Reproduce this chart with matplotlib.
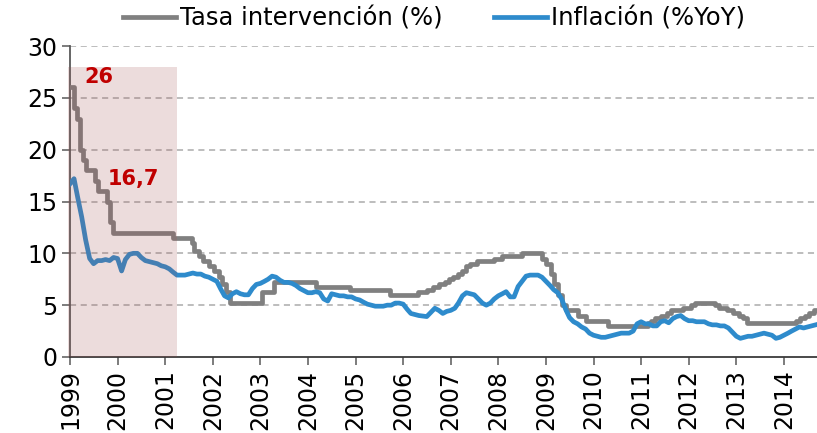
import numpy as np
import pandas as pd
import matplotlib
matplotlib.use("Agg")
import matplotlib.pyplot as plt
import matplotlib.dates as mdates

# Tasa de intervencion: fecha de cada cambio y nuevo nivel (%)
rate_dates = ["1999-01-01", "1999-02-01", "1999-02-25", "1999-03-18", "1999-04-08",
              "1999-05-05", "1999-07-15", "1999-08-01", "1999-10-12", "1999-11-02",
              "1999-11-25", "2001-03-01", "2001-07-25", "2001-08-10", "2001-09-15",
              "2001-10-20", "2001-12-01", "2002-01-10", "2002-02-15", "2002-03-15",
              "2002-04-10", "2002-05-10", "2003-01-10", "2003-04-15", "2004-03-01",
              "2004-11-20", "2005-09-20", "2006-04-28", "2006-07-01", "2006-08-15",
              "2006-10-01", "2006-11-15", "2006-12-20", "2007-01-20", "2007-03-01",
              "2007-04-01", "2007-05-01", "2007-06-01", "2007-07-20", "2007-12-01",
              "2008-02-01", "2008-07-01", "2008-12-01", "2009-01-01", "2009-02-10",
              "2009-03-01", "2009-04-01", "2009-05-01", "2009-06-01", "2009-09-01",
              "2009-11-01", "2010-04-20", "2011-02-20", "2011-03-20", "2011-04-20",
              "2011-06-01", "2011-07-20", "2011-08-20", "2011-11-20", "2012-01-20",
              "2012-02-20", "2012-07-20", "2012-08-20", "2012-10-20", "2012-12-10",
              "2013-01-20", "2013-02-20", "2013-03-20", "2014-04-01", "2014-05-01",
              "2014-06-15", "2014-07-15", "2014-08-20", "2014-09-01"]
rate_values = [26.0, 24.0, 23.0, 20.0, 19.0,
               18.0, 17.0, 16.0, 15.0, 13.0,
               12.0, 11.5, 11.0, 10.25, 9.75,
               9.25, 8.75, 8.25, 7.75, 7.0,
               6.25, 5.25, 6.25, 7.25, 6.75,
               6.5, 6.0, 6.25, 6.5, 6.75,
               7.0, 7.25, 7.5, 7.75, 8.0,
               8.25, 8.75, 9.0, 9.25, 9.5,
               9.75, 10.0, 9.5, 9.0, 8.0,
               7.0, 6.0, 5.0, 4.5, 4.0,
               3.5, 3.0, 3.25, 3.5, 3.75,
               4.0, 4.25, 4.5, 4.75, 5.0,
               5.25, 5.0, 4.75, 4.5, 4.25,
               4.0, 3.75, 3.25, 3.5, 3.75,
               4.0, 4.25, 4.5, 4.5]

# Inflacion anual (%YoY), mensual desde enero 1999
infl_1999 = [16.7, 17.2, 15.4, 13.5, 11.3, 9.5, 9.0, 9.3, 9.3, 9.4, 9.3, 9.6]
infl_2000 = [9.5, 8.3, 9.4, 9.9, 10.0, 10.0, 9.6, 9.3, 9.2, 9.1, 9.0, 8.8]
infl_2001 = [8.7, 8.5, 8.2, 7.9, 7.9, 7.9, 8.0, 8.1, 8.0, 8.0, 7.8, 7.7]
infl_2002 = [7.5, 7.3, 6.6, 5.9, 5.7, 6.1, 6.3, 6.1, 6.0, 6.0, 6.6, 7.0]
infl_2003 = [7.1, 7.3, 7.5, 7.8, 7.7, 7.4, 7.2, 7.2, 7.1, 6.9, 6.6, 6.4]
infl_2004 = [6.2, 6.2, 6.3, 6.2, 5.6, 5.4, 6.1, 6.0, 5.9, 5.9, 5.8, 5.8]
infl_2005 = [5.6, 5.5, 5.3, 5.1, 5.0, 4.9, 4.9, 4.9, 5.0, 5.0, 5.2, 5.2]
infl_2006 = [5.1, 4.6, 4.2, 4.1, 4.0, 3.95, 3.9, 4.3, 4.7, 4.5, 4.2, 4.4]
infl_2007 = [4.5, 4.7, 5.2, 5.9, 6.2, 6.1, 6.0, 5.6, 5.2, 5.0, 5.2, 5.6]
infl_2008 = [5.9, 6.1, 6.3, 5.8, 5.8, 6.8, 7.3, 7.8, 7.9, 7.9, 7.9, 7.7]
infl_2009 = [7.3, 6.9, 6.5, 6.2, 5.6, 4.6, 3.8, 3.4, 3.2, 2.9, 2.7, 2.3]
infl_2010 = [2.1, 2.0, 1.9, 1.9, 2.0, 2.1, 2.2, 2.3, 2.3, 2.3, 2.5, 3.2]
infl_2011 = [3.4, 3.2, 3.2, 3.0, 3.0, 3.4, 3.5, 3.3, 3.7, 3.9, 4.0, 3.7]
infl_2012 = [3.5, 3.5, 3.4, 3.4, 3.4, 3.2, 3.1, 3.1, 3.0, 3.0, 2.8, 2.4]
infl_2013 = [2.0, 1.8, 1.9, 2.0, 2.0, 2.1, 2.2, 2.3, 2.2, 2.1, 1.8, 1.9]
infl_2014 = [2.1, 2.3, 2.5, 2.7, 2.9, 2.8, 2.9, 3.0, 3.1]

inflation = (infl_1999 + infl_2000 + infl_2001 + infl_2002 + infl_2003 + infl_2004
             + infl_2005 + infl_2006 + infl_2007 + infl_2008 + infl_2009 + infl_2010
             + infl_2011 + infl_2012 + infl_2013 + infl_2014)
infl_dates = pd.date_range("1999-01-01", periods=len(inflation), freq="MS")

years = list(range(1999, 2015))
shade_start, shade_end, shade_top = "1998-12-20", "2001-04-01", 28
label_rate, label_infl = "26", "16,7"

plt.rcParams['font.family'] = ['DejaVu Sans']

fig = plt.figure(figsize=(8.17, 4.33), dpi=100)
ax = fig.add_axes([70 / 817, 76 / 433, 747 / 817, 311 / 433])

gray = "#808080"
blue = "#2E8BCC"

ax.plot(pd.to_datetime(rate_dates), rate_values, color=gray, lw=3.4,
        drawstyle="steps-post", label="Tasa intervención (%)", zorder=3)
ax.plot(infl_dates, inflation, color=blue, lw=3.4, label="Inflación (%YoY)", zorder=4)

# shaded period, drawn over the lines
ax.fill_between(pd.to_datetime([shade_start, shade_end]), 0, shade_top,
                color="#A05050", alpha=0.2, lw=0, zorder=5, clip_on=False)

ax.text(pd.Timestamp("1999-08-10"), 27.0, label_rate, color="#C00000",
        fontsize=15, fontweight="bold", ha="center", va="center", zorder=6)
ax.text(pd.Timestamp("2000-05-05"), 17.2, label_infl, color="#C00000",
        fontsize=15, fontweight="bold", ha="center", va="center", zorder=6)

ax.set_ylim(0, 30)
ax.set_yticks(range(0, 31, 5))
ax.set_xlim(pd.Timestamp("1999-01-01"), pd.Timestamp("2014-09-12"))
ax.set_xticks([pd.Timestamp(f"{y}-01-01") for y in years])
ax.xaxis.set_major_formatter(mdates.DateFormatter("%Y"))
plt.setp(ax.get_xticklabels(), rotation=90)

for y in range(5, 31, 5):
    ax.axhline(y, color="#ABABAB", lw=1.1, ls=(0, (4, 3)), zorder=1)

for s in ["top", "right"]:
    ax.spines[s].set_visible(False)
ax.spines["left"].set_color("#595959")
ax.spines["left"].set_linewidth(1.3)
ax.spines["bottom"].set_color("#3a3a3a")
ax.spines["bottom"].set_linewidth(1.3)
ax.tick_params(axis="y", length=6, width=1.1, color="#595959", labelsize=17, pad=3)
ax.tick_params(axis="x", length=6, width=1.1, color="#595959", labelsize=17, pad=3)

fig.legend(loc="center", bbox_to_anchor=(0.531, 0.958), ncol=2, frameon=False,
           fontsize=17.5, handlelength=2.2, handletextpad=0.15, columnspacing=2.1,
           borderpad=0)

fig.savefig("out.png", dpi=100)
